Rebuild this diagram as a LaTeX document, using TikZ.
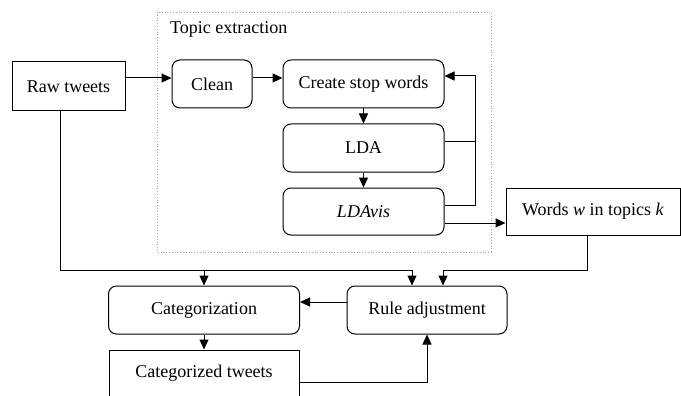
\documentclass[tikz,border=0pt]{standalone}
\usepackage{fontspec}
\setmainfont{Liberation Serif}
\usetikzlibrary{arrows.meta,positioning}
\tikzset{
  box/.style={draw, line width=1pt, minimum height=48pt, inner sep=0pt, align=center},
  rbox/.style={box, rounded corners=8pt},
  arr/.style={line width=1pt, -{Triangle[length=10pt,width=9pt]}},
  ln/.style={line width=1pt}
}

\begin{document}
\begin{tikzpicture}[x=1pt, y=-1pt, font=\fontsize{18}{21}\selectfont]
              \useasboundingbox (0,0) rectangle (681,396);
              % Topic extraction frame
              \draw[gray!70, dotted, line width=0.8pt] (157,12) rectangle (491,252);
              \node[anchor=west, inner sep=0pt] (topic) at (170,29) {Topic extraction};

              % Define boxes
              \node[box, minimum width=113pt, minimum height=49pt] (raw) at (68.5,86.5) {Raw tweets};
              \node[rbox, minimum width=80pt] (clean) at (212,84) {Clean};
              \node[rbox, minimum width=161pt] (stop) at (363.5,84) {Create stop words};
              \node[rbox, minimum width=161pt] (lda) at (363.5,148) {LDA};
              \node[rbox, minimum width=161pt, minimum height=47pt] (ldavis) at (363.5,211.5) {\textit{LDAvis}};
              \node[box, minimum width=174pt, minimum height=47pt] (words) at (593,211.5) {Words \textit{w} in topics \textit{k}};
              \node[rbox, minimum width=191pt] (cat) at (204,310) {Categorization};
              \node[rbox, minimum width=160pt] (rule) at (427,310) {Rule adjustment};
              \node[box, minimum width=190pt, minimum height=46pt] (cattw) at (204,373) {Categorized tweets};

              % Draw connectors
              \draw[arr] ([yshift=8.5pt]raw.east) -- ([yshift=6pt]clean.west);
              \draw[arr] ([yshift=6pt]clean.east) -- ([yshift=6pt]stop.west);
              \draw[arr] (stop.south) -- (lda.north);
              \draw[arr] (lda.south) -- (ldavis.north);
              \draw[arr] ([yshift=6.5pt]ldavis.east) -- ++(31,0) |- ([yshift=8pt]stop.east);
              \draw[ln] ([yshift=6pt]lda.east) -- ++(31,0);
              \draw[arr] ([yshift=-11.5pt]ldavis.east) -- ([yshift=-11.5pt]words.west);
              \draw[arr] ([xshift=-6pt]words.south) -- ++(0,35) -| ([xshift=16pt]rule.north);
              \draw[arr] ([xshift=-8.5pt]raw.south) -- ++(0,159) -| ([xshift=-15pt]rule.north);
              \draw[arr] ([yshift=16pt]cat.north) -- (cat.north);
              \draw[arr] ([yshift=8pt]rule.west) -- ([yshift=8pt]cat.east);
              \draw[arr] (cat.south) -- (cattw.north);
              \draw[arr] ([yshift=-9pt]cattw.east) -| (rule.south);
\end{tikzpicture}
\end{document}
